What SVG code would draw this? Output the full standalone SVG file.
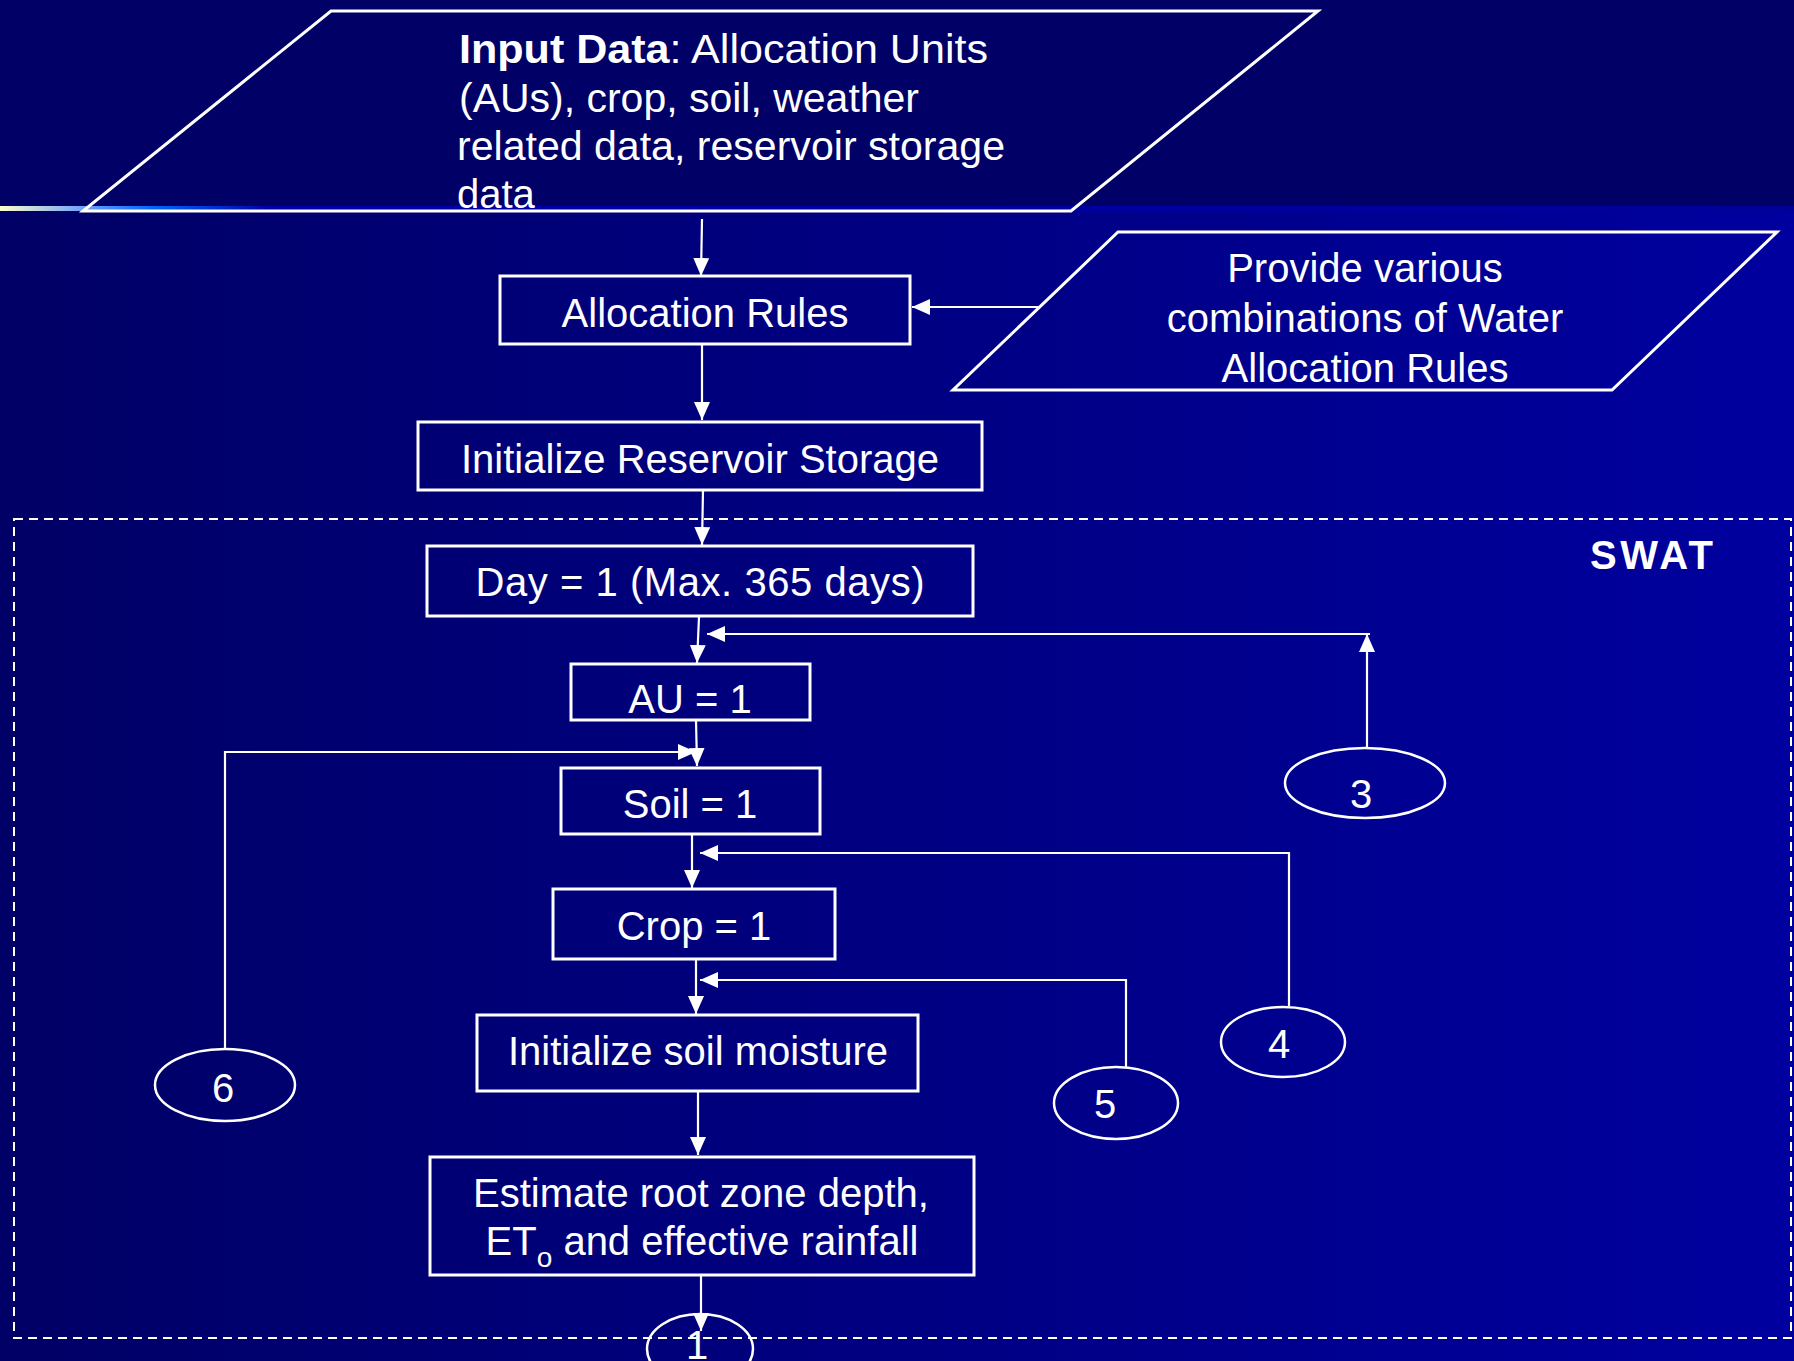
<svg xmlns="http://www.w3.org/2000/svg" width="1794" height="1361" viewBox="0 0 1794 1361">
<defs>
<linearGradient id="bgLow" x1="0" y1="0" x2="1" y2="0">
<stop offset="0" stop-color="#000066"/>
<stop offset="1" stop-color="#00009F"/>
</linearGradient>
<linearGradient id="hl" x1="0" y1="0" x2="1" y2="0">
<stop offset="0" stop-color="#FFFFCC"/>
<stop offset="0.05" stop-color="#6699FF"/>
<stop offset="0.085" stop-color="#0066FF"/>
<stop offset="0.15" stop-color="#0000AA"/>
<stop offset="1" stop-color="#000099"/>
</linearGradient>
<marker id="ah" markerUnits="userSpaceOnUse" markerWidth="18" markerHeight="16" refX="18" refY="8" orient="auto">
<path d="M0,0 L18,8 L0,16 z" fill="#FFFFFF"/>
</marker>
<style>
.box{fill:none;stroke:#FFFFFF;stroke-width:3}
.ell{fill:none;stroke:#FFFFFF;stroke-width:2.5}
.con{fill:none;stroke:#FFFFFF;stroke-width:2.2}
.arr{marker-end:url(#ah)}
.t{font-family:"Liberation Sans",Arial,sans-serif;font-size:40px;fill:#FFFFFF}
.c{text-anchor:middle}
</style>
</defs>
<rect x="0" y="0" width="1794" height="1361" fill="url(#bgLow)"/>
<rect x="0" y="0" width="1794" height="206" fill="#000066"/>
<rect x="0" y="206" width="1794" height="5" fill="url(#hl)"/>

<g id="swat">
<rect x="14" y="519" width="1777" height="819" fill="none" stroke="#FFFFFF" stroke-width="2" stroke-dasharray="9 6"/>
<text class="t" x="1590" y="569" font-weight="bold" textLength="123" lengthAdjust="spacing">SWAT</text>
</g>

<g id="connectors">
<line class="con arr" x1="702" y1="219" x2="701" y2="276"/>
<line class="con arr" x1="1039" y1="307" x2="912" y2="307"/>
<line class="con arr" x1="702" y1="344" x2="702" y2="420"/>
<line class="con arr" x1="703" y1="490" x2="702" y2="545"/>
<line class="con arr" x1="699" y1="617" x2="697" y2="663"/>
<line class="con arr" x1="1367" y1="748" x2="1367" y2="634"/>
<line class="con arr" x1="1370" y1="634" x2="707" y2="634"/>
<line class="con arr" x1="696" y1="720" x2="697" y2="766"/>
<polyline class="con arr" points="225,1049 225,752 696,752"/>
<line class="con arr" x1="692" y1="834" x2="692" y2="888"/>
<polyline class="con arr" points="1289,1006 1289,853 700,853"/>
<line class="con arr" x1="696" y1="959" x2="696" y2="1014"/>
<polyline class="con arr" points="1126,1067 1126,980 700,980"/>
<line class="con arr" x1="698" y1="1091" x2="698" y2="1155"/>
<line class="con arr" x1="701" y1="1275" x2="701" y2="1331"/>
</g>

<g id="input-data">
<polygon class="box" points="331,11 1318,11 1071,211 83,211"/>
<text class="t" font-size="41" x="459" y="63" textLength="529" lengthAdjust="spacingAndGlyphs"><tspan font-weight="bold">Input Data</tspan>: Allocation Units</text>
<text class="t" font-size="41" x="459" y="112" textLength="460" lengthAdjust="spacingAndGlyphs">(AUs), crop, soil, weather</text>
<text class="t" font-size="41" x="457" y="160" textLength="548" lengthAdjust="spacingAndGlyphs">related data, reservoir storage</text>
<text class="t" font-size="41" x="457" y="208">data</text>
</g>

<g id="allocation-rules">
<rect class="box" x="500" y="276" width="410" height="68"/>
<text class="t c" x="705" y="327">Allocation Rules</text>
</g>

<g id="provide-combinations">
<polygon class="box" points="1118,232 1777,232 1612,390 953,390"/>
<text class="t c" x="1365" y="282">Provide various</text>
<text class="t c" x="1365" y="332">combinations of Water</text>
<text class="t c" x="1365" y="382">Allocation Rules</text>
</g>

<g id="init-reservoir">
<rect class="box" x="418" y="422" width="564" height="68"/>
<text class="t c" x="700" y="473">Initialize Reservoir Storage</text>
</g>

<g id="day">
<rect class="box" x="427" y="546" width="546" height="70"/>
<text class="t c" x="700" y="596" textLength="449" lengthAdjust="spacing">Day = 1 (Max. 365 days)</text>
</g>

<g id="au">
<rect class="box" x="571" y="664" width="239" height="56"/>
<text class="t c" x="690" y="713">AU = 1</text>
</g>

<g id="soil">
<rect class="box" x="561" y="768" width="259" height="66"/>
<text class="t c" x="690" y="818">Soil = 1</text>
</g>

<g id="crop">
<rect class="box" x="553" y="889" width="282" height="70"/>
<text class="t c" x="694" y="940">Crop = 1</text>
</g>

<g id="init-soil-moisture">
<rect class="box" x="477" y="1015" width="441" height="76"/>
<text class="t c" x="698" y="1065">Initialize soil moisture</text>
</g>

<g id="estimate">
<rect class="box" x="430" y="1157" width="544" height="118"/>
<text class="t c" x="701" y="1207">Estimate root zone depth,</text>
<text class="t c" x="702" y="1255">ET<tspan font-size="28" dy="12">o</tspan><tspan dy="-12"> and effective rainfall</tspan></text>
</g>

<g id="c3">
<ellipse class="ell" cx="1365" cy="783" rx="80" ry="35"/>
<text class="t c" x="1361" y="808">3</text>
</g>
<g id="c4">
<ellipse class="ell" cx="1283" cy="1042" rx="62" ry="35"/>
<text class="t c" x="1279" y="1058">4</text>
</g>
<g id="c5">
<ellipse class="ell" cx="1116" cy="1103" rx="62" ry="36"/>
<text class="t c" x="1105" y="1118">5</text>
</g>
<g id="c6">
<ellipse class="ell" cx="225" cy="1085" rx="70" ry="36"/>
<text class="t c" x="223" y="1102">6</text>
</g>
<g id="c1">
<ellipse class="ell" cx="700" cy="1349" rx="53" ry="35"/>
<text class="t c" x="697" y="1359">1</text>
</g>
</svg>
